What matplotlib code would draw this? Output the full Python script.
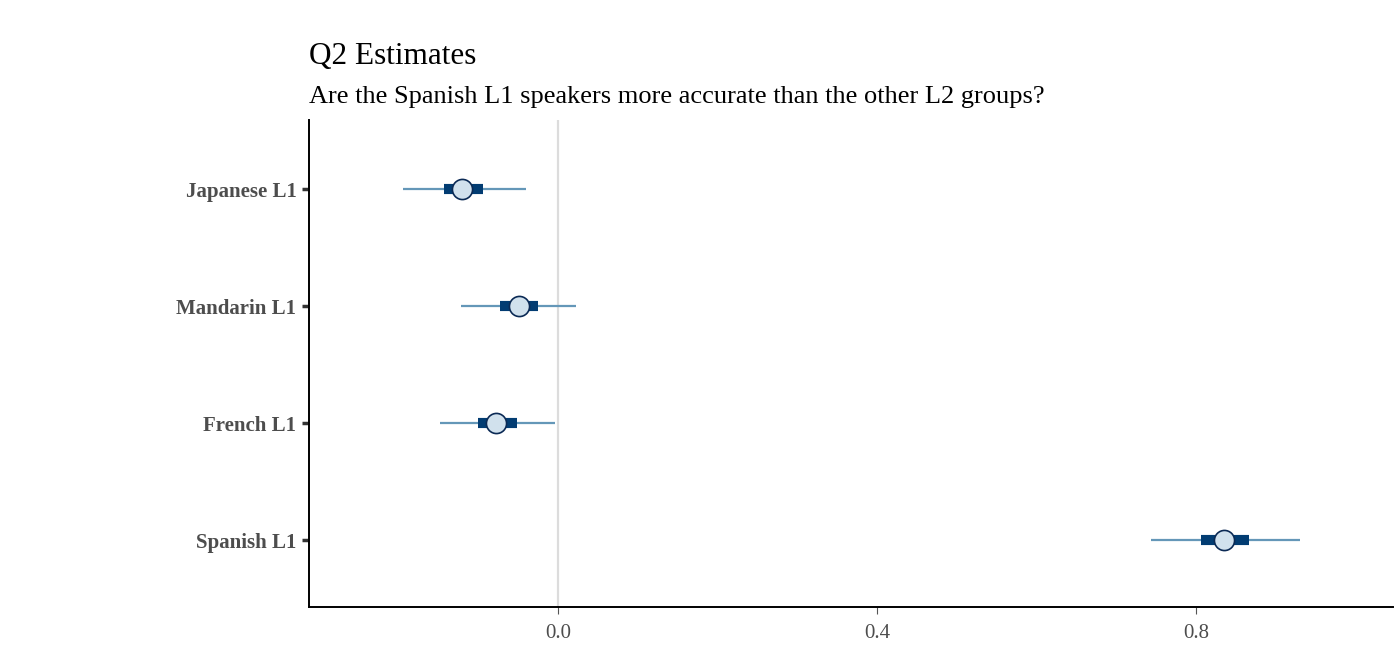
import matplotlib
matplotlib.use("Agg")
import matplotlib.pyplot as plt

plt.rcParams['font.family'] = ['Liberation Serif', 'DejaVu Serif']

# Posterior summaries per group (median, 66% and 95% intervals)
groups = ["Spanish L1", "French L1", "Mandarin L1", "Japanese L1"]
median = [0.835, -0.078, -0.049, -0.120]
inner_lo = [0.806, -0.100, -0.073, -0.143]
inner_hi = [0.867, -0.051, -0.025, -0.094]
outer_lo = [0.743, -0.148, -0.122, -0.194]
outer_hi = [0.930, -0.003, 0.023, -0.040]
xticks = [0.0, 0.4, 0.8]

fig = plt.figure(figsize=(14, 6.71), dpi=100)
ax = fig.add_axes([0.2207, 0.0954, 0.7743, 0.7258])

ax.axvline(0, color="#dcdcdc", lw=1.6, zorder=0)

ypos = list(range(1, len(groups) + 1))
for y, m, il, ih, ol, oh in zip(ypos, median, inner_lo, inner_hi, outer_lo, outer_hi):
    ax.plot([ol, oh], [y, y], color="#6497b8", lw=1.6, solid_capstyle="butt", zorder=1)
    ax.plot([il, ih], [y, y], color="#023c72", lw=7.3, solid_capstyle="butt", zorder=2)
    ax.plot([m], [y], marker="o", ms=14.5, mfc="#d1e1ed", mec="#0b2a55", mew=1.2, zorder=3)

ax.set_xlim(-0.312, 1.047)
ax.set_ylim(0.43, 4.59)
ax.set_yticks(ypos)
ax.set_yticklabels(groups, fontsize=15, fontweight="bold", color="#4d4d4d")
ax.set_xticks(xticks)
ax.set_xticklabels([f"{t:.1f}" for t in xticks], fontsize=15, color="#4d4d4d")

for s in ["top", "right"]:
    ax.spines[s].set_visible(False)
for s in ["left", "bottom"]:
    ax.spines[s].set_linewidth(1.4)
    ax.spines[s].set_color("black")

ax.tick_params(axis="y", length=5, width=2.5, color="#333333", pad=4)
ax.tick_params(axis="x", length=5, width=0.8, color="#555555", pad=7)

fig.text(0.2207, 0.905, "Q2 Estimates", fontsize=22.5, ha="left", va="baseline")
fig.text(0.2207, 0.847, "Are the Spanish L1 speakers more accurate than the other L2 groups?",
         fontsize=19, ha="left", va="baseline")

fig.savefig("out.png", dpi=100)
